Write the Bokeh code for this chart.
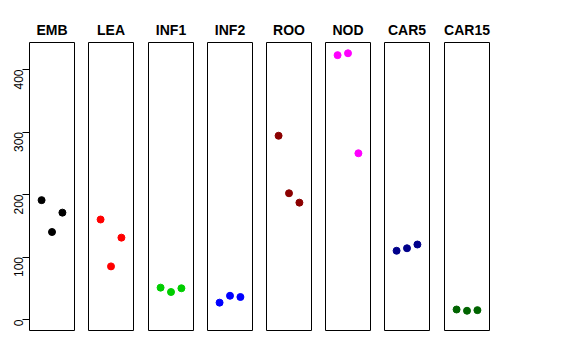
import math
from bokeh.plotting import figure
from bokeh.layouts import row
from bokeh.models import Range1d, FixedTicker
from bokeh.embed import file_html
from bokeh.resources import INLINE

groups = ["EMB", "LEA", "INF1", "INF2", "ROO", "NOD", "CAR5", "CAR15"]
reps = [1, 2, 3]
emb = [191, 140, 171]
lea = [160, 85, 131]
inf1 = [51, 44, 50]
inf2 = [27, 38, 36]
roo = [294, 202, 187]
nod = [423, 426, 266]
car5 = [110, 114, 120]
car15 = [16, 14, 15]
series = [emb, lea, inf1, inf2, roo, nod, car5, car15]
colors = ["#000000", "#FF0000", "#00CD00", "#0000FF", "#8B0000", "#FF00FF", "#00008B", "#006400"]
y_ticks = [0, 100, 200, 300, 400]

right_borders = [7, 8, 7, 7, 7, 7, 8, 7]
figs = []
for i, (name, vals, col) in enumerate(zip(groups, series, colors)):
    p = figure(frame_width=45, frame_height=288,
               x_range=Range1d(-0.16, 4.16), y_range=Range1d(-17.6, 443.2),
               output_backend="svg", toolbar_location=None, title=name,
               x_axis_location=None, y_axis_location="left" if i == 0 else None,
               min_border_left=29 if i == 0 else 7, min_border_right=right_borders[i],
               min_border_top=42, min_border_bottom=5)
    p.title.text_font = "Liberation Sans"
    p.title.text_font_size = "14px"
    p.title.text_font_style = "bold"
    p.title.align = "center"
    p.title.text_color = "#000000"
    p.grid.visible = False
    p.outline_line_color = "#000000"
    p.outline_line_width = 1
    p.background_fill_color = "white"
    p.border_fill_color = "white"
    if i == 0:
        ax = p.yaxis[0]
        ax.ticker = FixedTicker(ticks=y_ticks)
        ax.bounds = (0, 400)
        ax.minor_tick_line_color = None
        ax.major_tick_out = 7
        ax.major_tick_in = 0
        ax.major_label_orientation = math.pi / 2
        ax.major_label_text_font = "Liberation Sans"
        ax.major_label_text_font_size = "12px"
        ax.major_label_text_color = "#000000"
        ax.major_label_standoff = 4
        ax.axis_line_color = "#000000"
        ax.major_tick_line_color = "#000000"
    p.scatter(reps, vals, size=7, color=col, line_color=col)
    figs.append(p)

layout = row(*figs, spacing=0)
open("out.html", "w").write(file_html(layout, INLINE))
